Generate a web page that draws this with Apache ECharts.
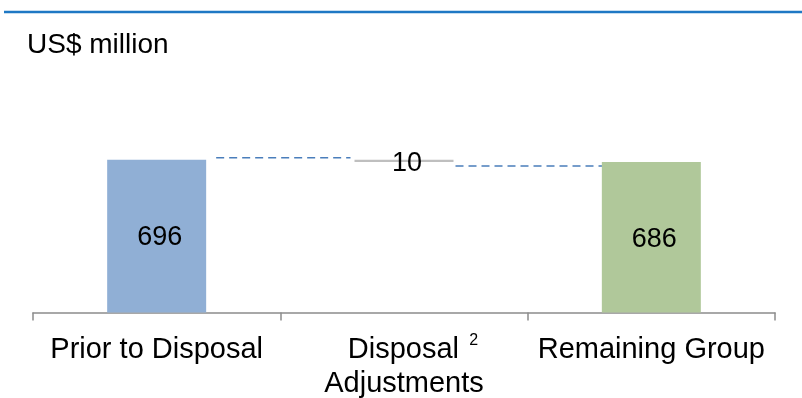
<!DOCTYPE html>
<html>
<head>
<meta charset="utf-8">
<script src="https://cdn.jsdelivr.net/npm/echarts@6/dist/echarts.min.js"></script>
<style>
  html, body { margin: 0; padding: 0; background: #ffffff; }
  #chart { width: 802px; height: 398px; }
</style>
</head>
<body>
<div id="chart"></div>
<script>
// ---- data ----
const unitLabel = 'US$ million';
const categories = ['Prior to Disposal', 'Disposal\nAdjustments', 'Remaining Group'];
const footnotes = ['', '2', ''];
const startTotal = 696;      // Prior to Disposal
const adjustment = -10;      // Disposal Adjustments
const endTotal = 686;        // Remaining Group

// derived waterfall arrays
const baseValues = [0, Math.min(startTotal, startTotal + adjustment), 0];
const barValues = [startTotal, Math.abs(adjustment), endTotal];
const connectorLevels = [[0, startTotal], [1, startTotal + adjustment]];

// ---- styles ----
const colors = ['#90AFD5', '#BFBFBF', '#B0C89A'];
const font = '"Liberation Sans", Arial, sans-serif';
const barWidth = 99;
const connStartGap = [10, 2];
const connEndGap = [-4, 1];
const connYOffset = [-2, 4];
const labelOffsets = [[3, 1], [3, 3], [3, 2]];

const chart = echarts.init(document.getElementById('chart'), null, { renderer: 'canvas' });

const option = {
  animation: false,
  backgroundColor: '#ffffff',
  textStyle: { fontFamily: font, color: '#000' },
  title: {
    text: unitLabel,
    left: 27,
    top: 31,
    padding: 0,
    textStyle: { fontFamily: font, fontSize: 28, fontWeight: 'normal', color: '#000' }
  },
  graphic: [{
    type: 'line',
    shape: { x1: 4, y1: 12, x2: 802, y2: 12 },
    style: { stroke: '#1E78C4', lineWidth: 2.5 },
    silent: true
  }],
  grid: { left: 33, right: 27, top: 137, height: 178 },
  xAxis: {
    type: 'category',
    data: categories,
    axisLine: { show: true, lineStyle: { color: '#8C8C8C', width: 1.5 } },
    axisTick: { show: true, length: 8, alignWithLabel: false, lineStyle: { color: '#8C8C8C', width: 1.5 } },
    axisLabel: {
      margin: 20,
      interval: 0,
      color: '#000',
      formatter: function (val, idx) {
        const lines = val.split('\n');
        const fn = footnotes[idx];
        if (fn) {
          return '{pad|' + lines[0] + '} {sup|' + fn + '}' +
            (lines.length > 1 ? '\n{a|' + lines.slice(1).join('\n') + '}' : '');
        }
        return lines.map(l => '{a|' + l + '}').join('\n');
      },
      rich: {
        a: { fontFamily: font, fontSize: 29, lineHeight: 34, color: '#000' },
        pad: { fontFamily: font, fontSize: 29, lineHeight: 34, color: '#000', padding: [0, 0, 0, 18] },
        sup: { fontFamily: font, fontSize: 16, lineHeight: 16, color: '#000', verticalAlign: 'top', padding: [0, 0, 0, 7] }
      }
    }
  },
  yAxis: { type: 'value', min: 0, max: 800, show: false, splitLine: { show: false } },
  series: [
    {
      type: 'custom',
      z: 1,
      data: connectorLevels,
      renderItem: function (params, api) {
        const i = api.value(0);
        const v = api.value(1);
        const p1 = api.coord([i, v]);
        const p2 = api.coord([i + 1, v]);
        const k = params.dataIndex;
        const y = p1[1] + connYOffset[k];
        return {
          type: 'line',
          shape: {
            x1: p1[0] + barWidth / 2 + connStartGap[k], y1: y,
            x2: p2[0] - barWidth / 2 + connEndGap[k], y2: y
          },
          style: { stroke: '#4A7EBB', lineWidth: 1.6, lineDash: [8, 5] }
        };
      }
    },
    {
      name: 'base',
      type: 'bar',
      stack: 'wf',
      barWidth: barWidth,
      z: 2,
      itemStyle: { color: 'transparent' },
      data: baseValues
    },
    {
      name: 'value',
      type: 'bar',
      stack: 'wf',
      barWidth: barWidth,
      z: 3,
      data: barValues.map((v, i) => ({
        value: v,
        itemStyle: i === 1
          ? { color: colors[i], borderColor: colors[i], borderWidth: 1.2 }
          : { color: colors[i] },
        label: { show: true, position: 'inside', offset: labelOffsets[i] }
      })),
      label: {
        show: true,
        position: 'inside',
        fontFamily: font,
        fontSize: 27,
        color: '#000'
      }
    }
  ]
};

chart.setOption(option);
</script>
</body>
</html>
